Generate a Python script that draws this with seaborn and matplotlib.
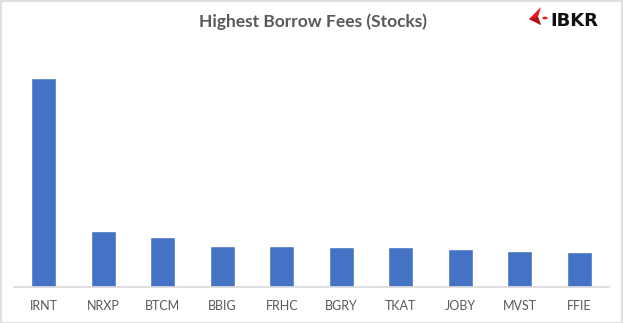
import matplotlib
matplotlib.use("Agg")
import matplotlib.pyplot as plt
import seaborn as sns
import pandas as pd
from matplotlib.patches import Rectangle, Polygon, Circle

tickers = ["IRNT", "NRXP", "BTCM", "BBIG", "FRHC", "BGRY", "TKAT", "JOBY", "MVST", "FFIE"]
fees = [209, 56, 50, 41, 41, 40, 40, 38, 36, 35]

df = pd.DataFrame({"ticker": tickers, "fee": fees})

sns.set_theme(style="white")
plt.rcParams["font.family"] = ["Lato", "DejaVu Sans"]

W, H = 623, 323
fig = plt.figure(figsize=(W / 100, H / 100), dpi=100)
ax = fig.add_axes([14 / W, (H - 287) / H, 595 / W, 230 / H])

sns.barplot(data=df, x="ticker", y="fee", color="#4472C4", width=0.42,
            saturation=1, ax=ax)
ax.set_xlim(-0.5, len(tickers) - 0.5)
ax.set_ylim(0, 230)
ax.set_xlabel("")
ax.set_ylabel("")
ax.set_yticks([])
for s in ["top", "right", "left"]:
    ax.spines[s].set_visible(False)
ax.spines["bottom"].set_color("#D9D9D9")
ax.spines["bottom"].set_linewidth(1.2)
ax.tick_params(axis="x", length=0, pad=9, labelsize=9, labelcolor="#595959")

fig.text(313 / W, 1 - 22 / H, "Highest Borrow Fees (Stocks)", ha="center", va="center",
         fontsize=12.5, fontweight="bold", color="#595959")

# logo
fig.text(550 / W, 1 - 21 / H, "IBKR", ha="left", va="center", fontsize=13,
         fontweight="bold", color="#111111", family="DejaVu Sans")


def P(x, y):
    return (x / W, 1 - y / H)


fig.patches.append(Polygon([P(529, 19), P(541, 7), P(538, 17), P(541, 25)],
                           closed=True, transform=fig.transFigure,
                           facecolor="#E31B23", edgecolor="none"))
fig.patches.append(Polygon([P(529, 19), P(538, 17), P(541, 25)],
                           closed=True, transform=fig.transFigure,
                           facecolor="#B0101A", edgecolor="none"))
fig.patches.append(Circle(P(545, 18), 2.6 / W, transform=fig.transFigure,
                          facecolor="#E31B23", edgecolor="none"))

fig.patches.append(Rectangle((0.5 / W, 0.5 / H), (W - 1.5) / W, (H - 1.5) / H,
                             transform=fig.transFigure, fill=False,
                             edgecolor="#D9D9D9", linewidth=1.2))

fig.savefig("out.png", dpi=100)
